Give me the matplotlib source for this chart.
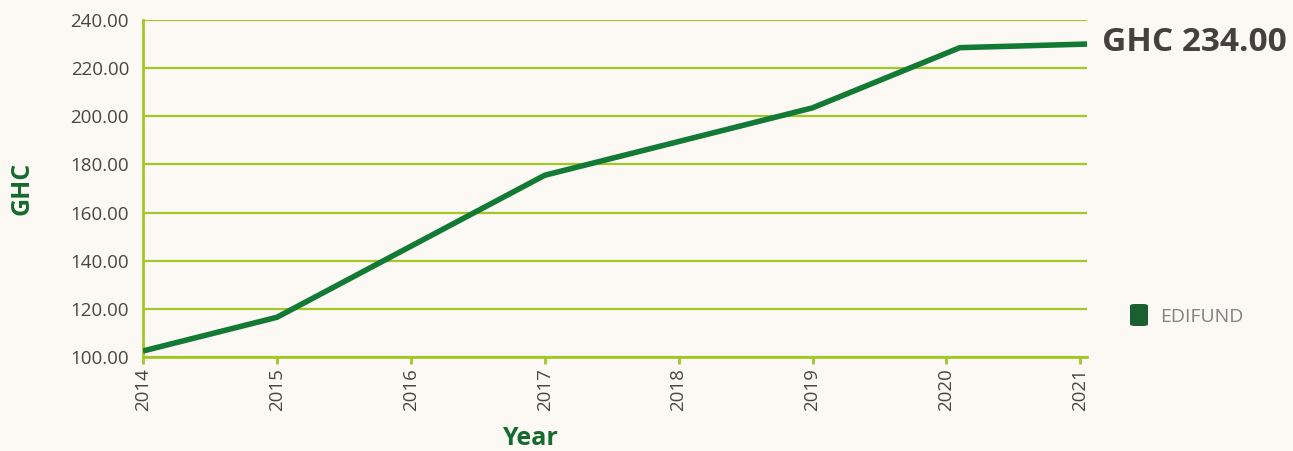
import matplotlib.pyplot as plt
from matplotlib.patches import FancyBboxPatch

# EDIFUND price history (fractional years)
years = [2014.0, 2015.0, 2017.0, 2019.0, 2020.1, 2021.05]
prices = [102.5, 116.5, 175.5, 203.5, 228.5, 230.0]
year_ticks = [2014, 2015, 2016, 2017, 2018, 2019, 2020, 2021]
price_ticks = [100, 120, 140, 160, 180, 200, 220, 240]
last_label = "GHC 234.00"
series_name = "EDIFUND"

bg = "#fcf9f4"
grid_col = "#a3c628"
line_col = "#137a35"
text_col = "#4a4545"

plt.rcParams['font.family'] = ['Open Sans', 'DejaVu Sans']

fig = plt.figure(figsize=(12.93, 4.51), dpi=100, facecolor=bg)
ax = fig.add_axes([0.1106, 0.2084, 0.7301, 0.7473])
ax.set_facecolor(bg)

ax.plot(years, prices, color=line_col, lw=4, solid_capstyle='butt', zorder=3)

ax.set_xlim(2014, 2021.05)
ax.set_ylim(100, 240)
ax.set_xticks(year_ticks)
ax.set_xticklabels([str(y) for y in year_ticks], rotation=90)
ax.set_yticks(price_ticks)
ax.set_yticklabels(["%.2f" % p for p in price_ticks])

ax.grid(axis='y', color=grid_col, lw=1.6)
ax.grid(axis='x', visible=False)
ax.set_axisbelow(True)
for s in ['top', 'right']:
    ax.spines[s].set_visible(False)
for s in ['left', 'bottom']:
    ax.spines[s].set_color(grid_col)
    ax.spines[s].set_linewidth(2)
ax.tick_params(axis='x', colors=grid_col, length=5, width=2, labelcolor=text_col, labelsize=13.5, pad=3)
ax.tick_params(axis='y', length=0, labelcolor=text_col, labelsize=13.5, pad=10)

ax.set_ylabel("GHC", color="#16692f", fontsize=18, fontweight='bold')
ax.set_xlabel("Year", color="#16692f", fontsize=18, fontweight='bold')
ax.yaxis.set_label_coords(-0.115, 0.5)
ax.xaxis.set_label_coords(0.41, -0.205)

ax.annotate(last_label, xy=(years[-1], prices[-1]), xytext=(11, 1), textcoords='offset points',
            va='center', ha='left', fontsize=24, fontweight='bold', color="#453f3d",
            annotation_clip=False)

# legend
fig.patches.append(FancyBboxPatch((1130 / 1293, 1 - 326 / 451), 18 / 1293, 22 / 451,
                                  boxstyle="round,pad=0,rounding_size=0.004",
                                  transform=fig.transFigure, facecolor="#1b5e2f",
                                  edgecolor='none'))
fig.text(1160 / 1293, 1 - 317 / 451, series_name, fontsize=14, color="#858080", va='center')

fig.savefig("out.png", dpi=100, facecolor=bg)
